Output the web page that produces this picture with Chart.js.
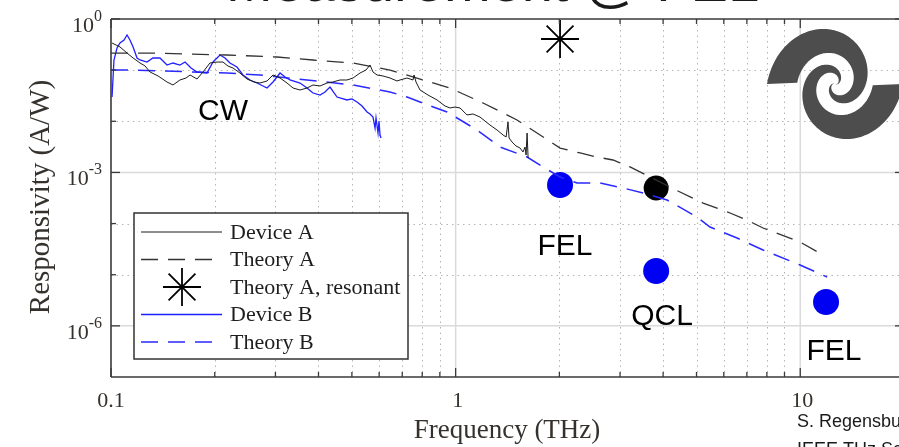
<!DOCTYPE html>
<html>
<head>
<meta charset="utf-8">
<script src="https://cdn.jsdelivr.net/npm/chart.js@4.4.1/dist/chart.umd.min.js"></script>
<style>
  html, body { margin: 0; padding: 0; background: #fff; overflow: hidden; width: 899px; height: 447px; }
  #wrap { width: 910px; height: 447px; }
  canvas { display: block; }
</style>
</head>
<body>
<div id="wrap"><canvas id="chart" width="910" height="447"></canvas></div>
<script>
// --- Data: frequency (THz) / responsivity (A/W) ---
const deviceAFreq = [0.1007, 0.1062, 0.1113, 0.1159, 0.1214, 0.1255, 0.1298, 0.1369, 0.1454, 0.1513, 0.1585, 0.1651, 0.1696, 0.1777, 0.1849, 0.1937, 0.2030, 0.2113, 0.2185, 0.2259, 0.2367, 0.2481, 0.2600, 0.2706, 0.2836, 0.2952, 0.3094, 0.3242, 0.3375, 0.3536, 0.3705, 0.3856, 0.4042, 0.4234, 0.4407, 0.4618, 0.4839, 0.5038, 0.5280, 0.5495, 0.5644, 0.5758, 0.5914, 0.6156, 0.6451, 0.6760, 0.6897, 0.7227, 0.7522, 0.7573, 0.7675, 0.7883, 0.8316, 0.8832, 0.9316, 0.9632, 0.996, 1.030, 1.079, 1.123, 1.177, 1.217, 1.258, 1.319, 1.373, 1.401, 1.419, 1.429, 1.458, 1.497, 1.538, 1.569, 1.590, 1.601, 1.612, 1.623];
const deviceAResp = [0.339, 0.284, 0.216, 0.173, 0.138, 0.121, 0.092, 0.077, 0.0586, 0.0512, 0.0642, 0.0702, 0.0804, 0.0671, 0.092, 0.138, 0.144, 0.144, 0.1205, 0.110, 0.0879, 0.0671, 0.0586, 0.056, 0.0613, 0.0804, 0.0702, 0.056, 0.0447, 0.0409, 0.0447, 0.0512, 0.049, 0.056, 0.0586, 0.0642, 0.0642, 0.0702, 0.0879, 0.1006, 0.126, 0.092, 0.0804, 0.0768, 0.0702, 0.0613, 0.0642, 0.0702, 0.0642, 0.0804, 0.0586, 0.0409, 0.0326, 0.0261, 0.0199, 0.0182, 0.019, 0.0182, 0.0133, 0.0139, 0.0121, 0.0101, 0.00846, 0.00675, 0.00539, 0.00493, 0.00968, 0.00471, 0.00393, 0.00329, 0.0030, 0.00251, 0.00314, 0.00219, 0.0059, 0.00191];

const theoryAFreq = [0.1, 0.1298, 0.2171, 0.3032, 0.3856, 0.5038, 0.6451, 0.9632, 1.201, 1.507, 2.009, 2.297, 2.572, 2.862, 3.207, 3.666, 4.479, 5.224, 6.256, 7.008, 7.798, 9.986, 11.65];
const theoryAResp = [0.216, 0.216, 0.1977, 0.1806, 0.1579, 0.1379, 0.1006, 0.0447, 0.0228, 0.0106, 0.0030, 0.0024, 0.0020, 0.00175, 0.00128, 8.14e-4, 4.14e-4, 2.52e-4, 1.61e-4, 1.17e-4, 8.19e-5, 4.36e-5, 2.43e-5];

const deviceBFreq = [0.1007, 0.1020, 0.1041, 0.1062, 0.1091, 0.1113, 0.1135, 0.1159, 0.1190, 0.1214, 0.1272, 0.1323, 0.1387, 0.1454, 0.1513, 0.1585, 0.1640, 0.1707, 0.1777, 0.1899, 0.1977, 0.2071, 0.2142, 0.2214, 0.2320, 0.2415, 0.2531, 0.2652, 0.2836, 0.2952, 0.3094, 0.3199, 0.3307, 0.3536, 0.3705, 0.3856, 0.4042, 0.4178, 0.4320, 0.4527, 0.4839, 0.5004, 0.5174, 0.5351, 0.5533, 0.5644, 0.5758, 0.5837, 0.5875, 0.5954, 0.5994, 0.6034, 0.6075];
const deviceBResp = [0.0298, 0.1579, 0.2709, 0.3393, 0.3886, 0.4866, 0.3886, 0.2835, 0.1727, 0.1579, 0.1442, 0.1727, 0.1727, 0.1260, 0.1379, 0.1260, 0.1442, 0.1101, 0.0920, 0.0879, 0.1442, 0.1977, 0.1727, 0.1379, 0.1152, 0.0804, 0.0642, 0.0560, 0.0447, 0.0586, 0.0879, 0.0734, 0.0642, 0.0560, 0.0447, 0.0357, 0.0326, 0.0374, 0.0468, 0.0298, 0.0261, 0.0273, 0.0238, 0.0199, 0.0152, 0.0139, 0.0121, 0.00739, 0.0116, 0.0059, 0.0101, 0.00539, 0.00471];

const theoryBFreq = [0.1, 0.1159, 0.2171, 0.2706, 0.3705, 0.5038, 0.6451, 0.7227, 0.7883, 0.9441, 1.154, 1.345, 1.612, 1.793, 2.009, 2.251, 2.624, 3.061, 3.498, 4.107, 5.018, 5.472, 6.556, 7.798, 9.986, 11.96];
const theoryBResp = [0.1006, 0.1006, 0.0879, 0.0804, 0.0642, 0.0512, 0.0374, 0.0298, 0.0238, 0.0152, 0.00675, 0.00314, 0.0020, 0.00128, 8.14e-4, 6.21e-4, 6.21e-4, 4.96e-4, 3.96e-4, 2.89e-4, 1.34e-4, 8.56e-5, 5.22e-5, 3.04e-5, 1.55e-5, 9.02e-6];

const resonantFreq = [2.009];
const resonantResp = [0.406];

// measured points: FEL 2 THz, QCL 3.8 THz, FEL 11.9 THz (device B), QCL (device A)
const measBFreq = [2.009, 3.818, 11.88];
const measBResp = [5.68e-4, 1.18e-5, 2.92e-6];
const measAFreq = [3.818];
const measAResp = [4.96e-4];

// source labels, anchored at (frequency, responsivity) of their baseline centre
const measLabels = [
  { text: "CW", f: 0.2113, r: 0.0106 },
  { text: "FEL", f: 2.077, r: 2.43e-5 },
  { text: "QCL", f: 3.97, r: 1.04e-6 },
  { text: "FEL", f: 12.53, r: 2.15e-7 },
];

// --- Axes ticks ---
const xTickVals = [0.1, 1, 10];
const xTickLabels = ["0.1", "1", "10"];
const xMinor = [0.2, 0.3, 0.4, 0.5, 0.6, 0.7, 0.8, 0.9, 2, 3, 4, 5, 6, 7, 8, 9];
const yTickVals = [1, 1e-3, 1e-6];
const yTickExp = ["0", "-3", "-6"];
const yMinor = [1e-1, 1e-2, 1e-4, 1e-5];

const legendLabels = ["Device A", "Theory A", "Theory A, resonant", "Device B", "Theory B"];

const pts = (xs, ys) => xs.map((x, i) => ({ x, y: ys[i] }));

const SERIF = '"Liberation Serif", "Times New Roman", serif';
const SANS = '"Liberation Sans", Arial, sans-serif';
const TXT = "#35312d";
const PLOT_RIGHT = 904; // the axes run a little past the window edge

function seg(ctx, x1, y1, x2, y2) {
  ctx.beginPath();
  ctx.moveTo(x1, y1);
  ctx.lineTo(x2, y2);
  ctx.stroke();
}

function star(ctx, cx, cy, r) {
  const d = r * Math.SQRT1_2;
  seg(ctx, cx - r, cy, cx + r, cy);
  seg(ctx, cx, cy - r, cx, cy + r);
  seg(ctx, cx - d, cy - d, cx + d, cy + d);
  seg(ctx, cx - d, cy + d, cx + d, cy - d);
}

// two-armed spiral logo (decoration)
function drawLogo(ctx, cx, cy) {
  const Ro = 68, Ri = 38, sy = 1.1, span = 2.2 * Math.PI;
  ctx.save();
  ctx.fillStyle = "#4d4d4d";
  [Math.PI, 0].forEach((t0) => {
    ctx.beginPath();
    for (let p = 0; p <= span; p += 0.04) {
      const r = Ro * Math.pow(1 - p / span, 1.3);
      ctx.lineTo(cx + r * Math.cos(t0 + p), cy + sy * r * Math.sin(t0 + p));
    }
    for (let p = span; p >= 0; p -= 0.04) {
      const r = Ri * Math.pow(1 - p / span, 1.25);
      ctx.lineTo(cx + r * Math.cos(t0 + p), cy + sy * r * Math.sin(t0 + p));
    }
    ctx.closePath();
    ctx.fill();
  });
  ctx.restore();
}

const framePlugin = {
  id: "frame",
  beforeDatasetsDraw(chart) {
    const { ctx, chartArea: a, scales } = chart;
    const x = scales.x, y = scales.y;
    ctx.save();
    ctx.beginPath();
    ctx.rect(a.left, a.top, a.right - a.left, a.bottom - a.top);
    ctx.clip();
    ctx.strokeStyle = "#b4b4b4";
    ctx.lineWidth = 1;
    ctx.setLineDash([1.5, 4]);
    xMinor.forEach((v) => {
      const px = Math.round(x.getPixelForValue(v)) + 0.5;
      seg(ctx, px, a.top, px, a.bottom);
    });
    yMinor.forEach((v) => {
      const py = Math.round(y.getPixelForValue(v)) + 0.5;
      seg(ctx, a.left, py, a.right, py);
    });
    ctx.setLineDash([]);
    ctx.strokeStyle = "#dadada";
    ctx.lineWidth = 1.5;
    xTickVals.slice(1).forEach((v) => {
      const px = x.getPixelForValue(v);
      seg(ctx, px, a.top, px, a.bottom);
    });
    yTickVals.slice(1).forEach((v) => {
      const py = y.getPixelForValue(v);
      seg(ctx, a.left, py, a.right, py);
    });
    ctx.restore();

    drawLogo(ctx, 835, 84);
  },
  afterDatasetsDraw(chart) {
    const { ctx, chartArea: a, scales } = chart;
    const x = scales.x, y = scales.y;
    ctx.save();

    // frame
    ctx.strokeStyle = "#3a3a3a";
    ctx.lineWidth = 1.6;
    seg(ctx, a.left, a.top, a.right, a.top);
    seg(ctx, a.left, a.top, a.left, a.bottom);
    seg(ctx, a.left, a.bottom, a.right, a.bottom);
    seg(ctx, a.right, a.top, a.right, a.bottom);

    // ticks
    ctx.lineWidth = 1.3;
    xMinor.forEach((v) => {
      const px = x.getPixelForValue(v);
      seg(ctx, px, a.bottom, px, a.bottom - 5);
      seg(ctx, px, a.top, px, a.top + 5);
    });
    xTickVals.forEach((v) => {
      const px = x.getPixelForValue(v);
      seg(ctx, px, a.bottom, px, a.bottom - 9);
      seg(ctx, px, a.top, px, a.top + 9);
    });
    yMinor.forEach((v) => {
      const py = y.getPixelForValue(v);
      seg(ctx, a.left, py, a.left + 5, py);
      seg(ctx, a.right, py, a.right - 5, py);
    });
    yTickVals.forEach((v) => {
      const py = y.getPixelForValue(v);
      seg(ctx, a.left, py, a.left + 9, py);
      seg(ctx, a.right, py, a.right - 9, py);
    });

    // tick labels
    ctx.fillStyle = TXT;
    ctx.textAlign = "center";
    ctx.textBaseline = "alphabetic";
    ctx.font = "22px " + SERIF;
    xTickVals.forEach((v, i) => {
      ctx.fillText(xTickLabels[i], x.getPixelForValue(v) + (i ? 2 : 0), a.bottom + 30);
    });
    ctx.textAlign = "right";
    yTickVals.forEach((v, i) => {
      const py = y.getPixelForValue(v);
      ctx.font = "16px " + SERIF;
      const ew = ctx.measureText(yTickExp[i]).width;
      ctx.fillText(yTickExp[i], a.left - 9, py + 2);
      ctx.font = "22px " + SERIF;
      ctx.fillText("10", a.left - 9 - ew, py + 13);
    });

    // axis titles
    ctx.textAlign = "center";
    ctx.font = "27px " + SERIF;
    ctx.fillText("Frequency (THz)", 507, 438);
    ctx.save();
    ctx.translate(49, 197);
    ctx.rotate(-Math.PI / 2);
    ctx.font = "29px " + SERIF;
    ctx.fillText("Responsivity (A/W)", 0, 0);
    ctx.restore();

    // source labels
    ctx.fillStyle = "#000";
    ctx.font = "30px " + SANS;
    measLabels.forEach((m) => {
      ctx.fillText(m.text, x.getPixelForValue(m.f), y.getPixelForValue(m.r));
    });

    // legend
    const lx = 134, ly = 213, lw = 274, lh = 146;
    ctx.fillStyle = "#fff";
    ctx.fillRect(lx, ly, lw, lh);
    ctx.strokeStyle = "#333";
    ctx.lineWidth = 1.5;
    ctx.strokeRect(lx, ly, lw, lh);
    ctx.textAlign = "left";
    ctx.textBaseline = "middle";
    ctx.font = "22px " + SERIF;
    legendLabels.forEach((lab, i) => {
      const ds = chart.data.datasets.find((d) => d.label === lab);
      const ry = ly + 19 + i * 27.5;
      ctx.save();
      ctx.strokeStyle = ds.borderColor;
      if (ds.pointStyle === "star") {
        ctx.lineWidth = 1.8;
        star(ctx, 182, ry, 19);
      } else {
        ctx.lineWidth = ds.borderWidth;
        ctx.setLineDash(ds.borderDash || []);
        seg(ctx, 141, ry, 222, ry);
      }
      ctx.restore();
      ctx.fillStyle = "#1e1e1e";
      ctx.fillText(lab, 230, ry + 1);
    });

    ctx.restore();
  },
  afterDraw(chart) {
    const ctx = chart.ctx;
    ctx.save();
    ctx.fillStyle = "#1a1a1a";
    ctx.textAlign = "left";
    ctx.textBaseline = "alphabetic";
    ctx.font = "56px " + SANS;
    ctx.fillText("Measurement @ FEL", 226, 1);
    ctx.font = "18px " + SANS;
    ctx.fillText("S. Regensburger et al.,", 797, 427);
    ctx.fillText("IEEE THz Sci. Technol.", 797, 455);
    ctx.restore();
  },
};

const chart = new Chart(document.getElementById("chart"), {
  type: "line",
  data: {
    datasets: [
      { label: "Device A", data: pts(deviceAFreq, deviceAResp), borderColor: "#1c1c1c", borderWidth: 1, pointRadius: 0 },
      { label: "Theory A", data: pts(theoryAFreq, theoryAResp), borderColor: "#333333", borderWidth: 1.3, borderDash: [17, 10], pointRadius: 0 },
      { label: "Device B", data: pts(deviceBFreq, deviceBResp), borderColor: "#1f1fff", borderWidth: 1.3, pointRadius: 0 },
      { label: "Theory B", data: pts(theoryBFreq, theoryBResp), borderColor: "#2a2aff", borderWidth: 1.5, borderDash: [17, 10], pointRadius: 0 },
      { label: "Theory A, resonant", data: pts(resonantFreq, resonantResp), showLine: false, pointStyle: "star", pointRadius: 19, borderColor: "#000", pointBorderWidth: 1.8, borderWidth: 1.8 },
      { label: "Measured B", data: pts(measBFreq, measBResp), showLine: false, pointRadius: 13, backgroundColor: "#0000f2", borderColor: "#0000f2", pointBorderWidth: 0 },
      { label: "Measured A", data: pts(measAFreq, measAResp), showLine: false, pointRadius: 12.5, backgroundColor: "#000", borderColor: "#000", pointBorderWidth: 0 },
    ],
  },
  options: {
    responsive: false,
    animation: false,
    devicePixelRatio: 1,
    layout: { autoPadding: false, padding: { left: 111, top: 19, right: 910 - PLOT_RIGHT, bottom: 70 } },
    elements: { line: { tension: 0 } },
    scales: {
      x: { type: "logarithmic", min: 0.1, max: 20, display: false },
      y: { type: "logarithmic", min: 1e-7, max: 1, display: false },
    },
    plugins: { legend: { display: false }, tooltip: { enabled: false } },
  },
  plugins: [framePlugin],
});

// keep the plot's right edge at PLOT_RIGHT whatever width the canvas ended up with
if (chart.chartArea && Math.abs(chart.chartArea.right - PLOT_RIGHT) > 0.5 && chart.width > PLOT_RIGHT) {
  chart.options.layout.padding.right = chart.width - PLOT_RIGHT;
  chart.update();
}
</script>
</body>
</html>
